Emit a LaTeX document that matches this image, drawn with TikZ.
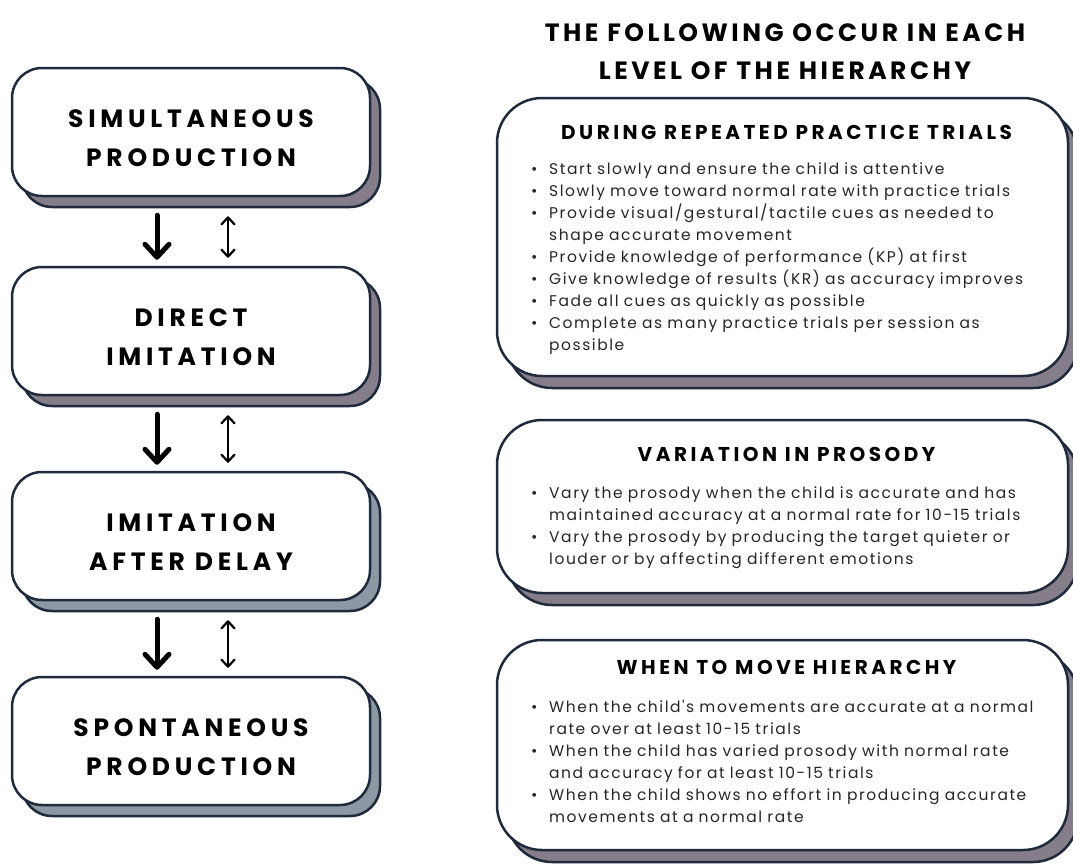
\documentclass[tikz,border=0pt]{standalone}
\usepackage{fontspec}
\setmainfont{Poppins}
\newfontfamily\lfont{Poppins}[LetterSpace=19]
\newfontfamily\tfont{Poppins}[LetterSpace=14]
\newfontfamily\hfont{Poppins}[LetterSpace=17.5]
\newfontfamily\bfont{Poppins}[LetterSpace=10]
\usetikzlibrary{arrows.meta,shadows}
\definecolor{navy}{HTML}{1F2B3C}
\definecolor{mauve}{HTML}{857D89}
\definecolor{bluegray}{HTML}{8C98A4}
\definecolor{bodytext}{HTML}{262626}
\newcommand\itm[1]{\hyphenpenalty=10000\relax\hangindent=21pt\hangafter=1\noindent\makebox[21pt][l]{\hspace{3pt}•}#1\par}
\tikzset{
  lbox/.style={draw=navy, line width=2.5pt, fill=white, rounded corners=30pt,
    minimum width=358pt, minimum height=128pt, inner sep=0pt,
    copy shadow={shadow xshift=10pt, shadow yshift=-11pt, fill=#1, draw=navy, line width=2.5pt}},
  ltext/.style={align=center, inner sep=0pt, yshift=-6pt,
    font=\lfont\bfseries\fontsize{25}{39}\selectfont},
  rbox/.style={draw=navy, line width=2.5pt, fill=white, rounded corners=45pt,
    minimum width=571pt, inner sep=0pt,
    copy shadow={shadow xshift=10pt, shadow yshift=-12pt, fill=mauve, draw=navy, line width=2.5pt}},
  rhead/.style={font=\hfont\bfseries\fontsize{20}{22}\selectfont, inner sep=0pt},
  rbody/.style={anchor=north west, text width=540pt, inner sep=0pt, align=left,
    text=bodytext, font=\bfont\fontsize{15.5}{22}\selectfont},
  thick arrow/.style={line width=5pt, line cap=round,
    -{Straight Barb[length=13pt, width=24pt, line cap=round, line join=round]}},
  thin arrow/.style={line width=2.2pt,
    {Straight Barb[length=7pt, width=13pt, line cap=round, line join=round]}-{Straight Barb[length=7pt, width=13pt, line cap=round, line join=round]}}
}
\begin{document}
\begin{tikzpicture}[x=1pt,y=-1pt]
\useasboundingbox (0,0) rectangle (1073,863);
% left column
\node[lbox=mauve] (s1) at (191,132) {};
\node[lbox=mauve] (s2) at (191,331) {};
\node[lbox=bluegray] (s3) at (191,536) {};
\node[lbox=bluegray] (s4) at (191,741) {};
\node[ltext] (t1) at (s1.center) {SIMULTANEOUS\\PRODUCTION};
\node[ltext] (t2) at (s2.center) {DIRECT\\IMITATION};
\node[ltext] (t3) at (s3.center) {IMITATION\\AFTER DELAY};
\node[ltext] (t4) at (s4.center) {SPONTANEOUS\\PRODUCTION};
\foreach \a/\b in {s1/s2,s2/s3,s3/s4}{
  \draw[thick arrow] ([xshift=-34pt,yshift=-18pt]\a.south) -- ([xshift=-34pt,yshift=6pt]\b.north);
  \draw[thin arrow] ([xshift=37pt,yshift=-19pt]\a.south) -- ([xshift=37pt,yshift=8pt]\b.north);
}
% heading
\node[font=\tfont\bfseries\fontsize{25}{38}\selectfont, align=center, inner sep=0pt] (title) at (785,51.5)
  {THE FOLLOWING OCCUR IN EACH\\LEVEL OF THE HIERARCHY};
% right boxes
\node[rbox, minimum height=278pt] (ra) at (782.5,237) {};
\node[rbox, minimum height=173pt] (rb) at (782.5,506.5) {};
\node[rbox, minimum height=210pt] (rc) at (782.5,745) {};
\node[rhead] (ha) at (786.5,132) {DURING REPEATED PRACTICE TRIALS};
\node[rbody] (ba) at (528,162.5) {%
\itm{Start slowly and ensure the child is attentive}
\itm{Slowly move toward normal rate with practice trials}
\itm{Provide visual/gestural/tactile cues as needed to\newline shape accurate movement}
\itm{Provide knowledge of performance (KP) at first}
\itm{Give knowledge of results (KR) as accuracy improves}
\itm{Fade all cues as quickly as possible}
\itm{Complete as many practice trials per session as\newline possible}};
\node[rhead] (hb) at (786.5,454) {VARIATION IN PROSODY};
\node[rbody] (bb) at (528,486.5) {%
\itm{Vary the prosody when the child is accurate and has\newline maintained accuracy at a normal rate for 10-15 trials}
\itm{Vary the prosody by producing the target quieter or\newline louder or by affecting different emotions}};
\node[rhead] (hc) at (786.5,667) {WHEN TO MOVE HIERARCHY};
\node[rbody] (bc) at (528,699.5) {%
\itm{When the child's movements are accurate at a normal\newline rate over at least 10-15 trials}
\itm{When the child has varied prosody with normal rate\newline and accuracy for at least 10-15 trials}
\itm{When the child shows no effort in producing accurate\newline movements at a normal rate}};
\end{tikzpicture}
\end{document}
